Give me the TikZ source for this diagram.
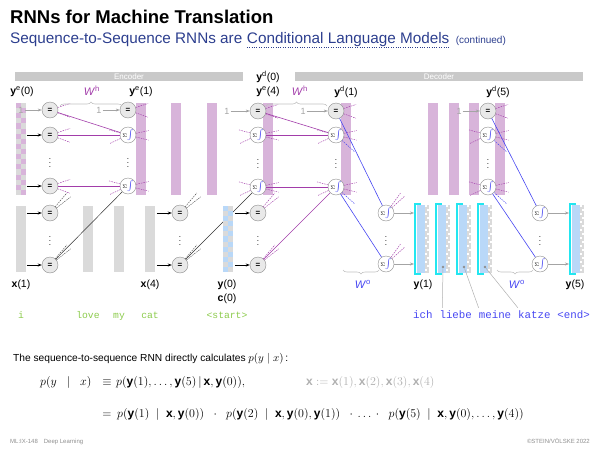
\documentclass[tikz,border=0pt]{standalone}
\usepackage{fontspec}
\setmainfont{Liberation Sans}
\setmonofont{Liberation Mono}
\usetikzlibrary{decorations.pathreplacing,arrows.meta,positioning}
\definecolor{lila}{HTML}{A23DAA}
\definecolor{lilabar}{HTML}{D8B4DA}
\definecolor{vio}{HTML}{4646F2}
\definecolor{grbar}{HTML}{DADADA}
\definecolor{head}{HTML}{C9C9C9}
\definecolor{skyb}{HTML}{B9D8F8}
\definecolor{cyanb}{HTML}{22E6F0}
\definecolor{wgreen}{HTML}{8CCB4C}
\definecolor{navy}{HTML}{2C3E8E}
\definecolor{mut}{HTML}{8E8E8E}
\newcommand{\sgsym}{{\fontsize{5}{5}\selectfont$\Sigma$}\textcolor{vio}{$\int$}}

\begin{document}
\begin{tikzpicture}[x=1pt,y=-1pt,
    eqn/.style={circle,draw=mut,fill=grbar!60,minimum size=16pt,inner sep=0pt,
      font=\bfseries\fontsize{8}{8}\selectfont},
    sgn/.style={circle,draw=mut,fill=white,minimum size=16pt,inner sep=0pt,
      font=\fontsize{8}{8}\selectfont},
    vd/.style={inner sep=0pt,font=\fontsize{8}{8}\selectfont},
    hdr/.style={fill=head,text=white,minimum height=9pt,inner sep=0pt,
      font=\fontsize{8}{8}\selectfont},
    hline/.style={lila,line width=0.6pt},
    oline/.style={vio,line width=0.6pt},
    xline/.style={black!80,line width=0.5pt},
    stub/.style={dash pattern=on 1.5pt off 1pt,line width=0.45pt},
    inarr/.style={-{Stealth[length=4pt,width=3pt]},line width=0.6pt},
    onearr/.style={-{Stealth[length=4pt,width=3pt]},mut!80,line width=0.5pt},
    onelab/.style={text=mut!80,font=\fontsize{9}{9}\selectfont,inner sep=1pt},
    lab/.style={font=\fontsize{10.5}{12}\selectfont,inner sep=0pt},
    wlab/.style={font=\fontsize{11}{12}\selectfont,inner sep=0pt},
    enword/.style={font=\ttfamily\fontsize{9.7}{11}\selectfont,text=wgreen,inner sep=0pt,
      anchor=base},
    deword/.style={font=\ttfamily\fontsize{10.8}{12}\selectfont,text=vio,inner sep=0pt,
      text height=1.6ex,text depth=0.3ex},
    frm/.style={inner sep=0pt,font=\fontsize{12}{14}\selectfont},
    ptr/.style={circle,fill=mut,minimum size=2.6pt,inner sep=0pt},
    brc/.style={decorate,decoration={brace,amplitude=4pt},mut!55,line width=0.6pt}]
  \useasboundingbox (0,0) rectangle (600,450);
  % title
  \node[anchor=base west,inner sep=0pt,font=\bfseries\fontsize{18.5}{20}\selectfont]
    (title) at (10,23.5) {RNNs for Machine Translation};
  \node[anchor=base west,inner sep=0pt,text=navy,font=\fontsize{15.3}{17}\selectfont]
    (sub1) at (10,43.5) {Sequence-to-Sequence RNNs are};
  \node[base right=4.2pt of sub1,inner sep=0pt,text=navy,font=\fontsize{15.3}{17}\selectfont]
    (sub2) {Conditional Language Models};
  \draw[navy,dotted] ([yshift=-3.5pt]sub2.base west) -- ([yshift=-3.5pt]sub2.base east);
  \node[base right=6pt of sub2,inner sep=0pt,text=navy,font=\fontsize{10}{12}\selectfont]
    (cont) {(continued)};
  % encoder / decoder headers
  \node[hdr,minimum width=228pt] (enc) at (129,76.5) {Encoder};
  \node[hdr,minimum width=288pt] (dec) at (439,76.5) {Decoder};
  % hidden state vectors
  \foreach \bx in {136,171,207,263,341,428,449,469,495}
    \fill[lilabar] (\bx,103) rectangle ++(10,92);
  \fill[grbar] (16,103) rectangle ++(10,92);
  \foreach \r in {0,...,17}
    \fill[lilabar] ({16+5*mod(\r,2)},{103+5.11*\r}) rectangle ++(5,5.11);
  % input vectors
  \foreach \bx in {16,83,114,145}
    \fill[grbar] (\bx,206) rectangle ++(10,66);
  % output vectors
  \foreach \cx in {415,436,457,478,570}{
    \fill[skyb] (\cx+1.5,205) rectangle (\cx+10,273);
    \fill[grbar] (\cx+10,205) rectangle (\cx+14,273);
    \foreach \r in {0,...,16}
      \fill[white] ({\cx+10+2*mod(\r,2)},{205+4*\r}) rectangle ++(2,2);
    \draw[cyanb,line width=1.3pt] (\cx+6,204) -- (\cx,204) -- (\cx,274) -- (\cx+6,274);}

  % encoder, step 1
  \node[eqn] (ea1) at (50,110) {=};
  \node[eqn] (eb1) at (50,135) {=};
  \node[eqn] (ec1) at (50,186) {=};
  \node[eqn] (xa1) at (50,213) {=};
  \node[eqn] (xb1) at (50,265) {=};
  \node[eqn] (ha1) at (128,110) {=};
  \node[sgn] (hb1) at (128,135) {\sgsym};
  \node[sgn] (hc1) at (128,186) {\sgsym};
  % encoder, step 4
  \node[eqn] (xa4) at (180,213) {=};
  \node[eqn] (xb4) at (180,265) {=};
  \node[eqn] (ha4) at (258,111) {=};
  \node[sgn] (hb4) at (258,135) {\sgsym};
  \node[sgn] (hc4) at (258,187) {\sgsym};
  \node[eqn] (ya0) at (258,213) {=};
  \node[eqn] (yb0) at (258,265) {=};
  % decoder, step 1
  \node[eqn] (da1) at (336,111) {=};
  \node[sgn] (db1) at (336,135) {\sgsym};
  \node[sgn] (dc1) at (336,187) {\sgsym};
  \node[sgn] (oa1) at (386,213) {\sgsym};
  \node[sgn] (ob1) at (386,264) {\sgsym};
  % decoder, step 5
  \node[eqn] (da5) at (488,111) {=};
  \node[sgn] (db5) at (488,135) {\sgsym};
  \node[sgn] (dc5) at (488,187) {\sgsym};
  \node[sgn] (oa5) at (540,213) {\sgsym};
  \node[sgn] (ob5) at (540,264) {\sgsym};
  \foreach \px/\py [count=\k] in {50/160,128/160,50/238,180/238,258/161,
      258/238,336/161,386/238,488/161,540/238}
    \node[vd] (dt\k) at (\px,\py) {$\vdots$};

  % weights
  \draw[hline] (ea1) -- (hb1);
  \draw[hline] (eb1) -- (hb1);
  \draw[hline] (ec1) -- (hc1);
  \draw[xline] (xb1) -- (hc1);
  \draw[xline] (xb4) -- (hc4);
  \draw[hline] (ha4) -- (db1);
  \draw[hline] (hb4) -- (db1);
  \draw[hline] (hc4) -- (dc1);
  \draw[hline] (yb0) -- (dc1);
  \draw[oline] (da1) -- (oa1);
  \draw[oline] (dc1) -- (ob1);
  \draw[oline] (da5) -- (oa5);
  \draw[oline] (dc5) -- (ob5);
  % dashed stubs: the other weights
  \foreach \n in {ea1,eb1,ec1,ha1,ha4,da1,da5}
    \foreach \a in {18,-20}
      \draw[stub,lila] (\n.\a) -- ++(\a:13pt);
  \foreach \n in {hb1,hc1,hb4,hc4,db1,dc1,db5,dc5}{
    \foreach \a in {165,205}
      \draw[stub,lila] (\n.\a) -- ++(\a:12pt);
    \foreach \a in {12,-14}
      \draw[stub,lila] (\n.\a) -- ++(\a:13pt);}
  \foreach \n in {db1,dc1,db5,dc5}
    \draw[stub,vio] (\n.-42) -- ++(-42:17pt);
  \foreach \n in {xa1,xb1,xa4,xb4}
    \foreach \a in {38,50}
      \draw[stub,black!70] (\n.\a) -- ++(\a:18pt);
  \foreach \n in {ya0,yb0}
    \foreach \a in {38,50}
      \draw[stub,lila] (\n.\a) -- ++(\a:18pt);
  \foreach \n in {oa1,ob1}
    \foreach \a in {42,54}
      \draw[stub,lila] (\n.\a) -- ++(\a:17pt);

  % y(0) vector, above the x(4) weight
  \fill[grbar] (223,206) rectangle ++(10,66);
  \foreach \r in {0,...,12}
    \fill[skyb] ({223+5*mod(\r,2)},{206+5.08*\r}) rectangle ++(5,5.08);

  % bias inputs
  \node[onelab] (one0) at (21,110) {1};
  \node[onelab] (one1) at (99,110) {1};
  \node[onelab] (one4) at (227,111) {1};
  \node[onelab] (one5) at (303,111) {1};
  \node[onelab] (one9) at (459,111) {1};
  \draw[onearr] (one0) -- (ea1);
  \draw[onearr] (one1) -- (ha1);
  \draw[onearr] (one4) -- (ha4);
  \draw[onearr] (one5) -- (da1);
  \draw[onearr] (one9) -- (da5);
  % vector inputs
  \foreach \n in {eb1,ec1,xa1,xb1,xa4,xb4,ya0,yb0}
    \draw[inarr] ([xshift=-15pt]\n.west) -- (\n.west);
  \coordinate (c1a) at (414,213);
  \coordinate (c1b) at (414,264);
  \coordinate (c5a) at (569,213);
  \coordinate (c5b) at (569,264);
  \draw[onearr] (oa1) -- (c1a);
  \draw[onearr] (ob1) -- (c1b);
  \draw[onearr] (oa5) -- (c5a);
  \draw[onearr] (ob5) -- (c5b);

  % braces
  \draw[brc] (60,106) -- (122,106);
  \draw[brc] (266,106) -- (327,106);
  \draw[brc] (379,270) -- (343,270);
  \draw[brc] (533,270) -- (497,270);
  \node[wlab,text=lila] (wh1) at (92,91) {\textit{W}\textsuperscript{h}};
  \node[wlab,text=lila] (wh2) at (300,91) {\textit{W}\textsuperscript{h}};
  \node[wlab,text=vio] (wo1) at (363,284) {\textit{W}\textsuperscript{o}};
  \node[wlab,text=vio] (wo2) at (517,284) {\textit{W}\textsuperscript{o}};

  % vector labels
  \node[lab] (lye0) at (22,92) {\textbf{y}\textsuperscript{e}(0)};
  \node[lab] (lye1) at (141,92) {\textbf{y}\textsuperscript{e}(1)};
  \node[lab] (lyd0) at (268,77) {\textbf{y}\textsuperscript{d}(0)};
  \node[lab] (lye4) at (268,92) {\textbf{y}\textsuperscript{e}(4)};
  \node[lab] (lyd1) at (346,92) {\textbf{y}\textsuperscript{d}(1)};
  \node[lab] (lyd5) at (498,92) {\textbf{y}\textsuperscript{d}(5)};
  \node[lab] (lx1) at (21,285) {\textbf{x}(1)};
  \node[lab] (lx4) at (150,285) {\textbf{x}(4)};
  \node[lab] (ly0) at (227,285) {\textbf{y}(0)};
  \node[lab] (lc0) at (227,299) {\textbf{c}(0)};
  \node[lab] (ly1) at (423,285) {\textbf{y}(1)};
  \node[lab] (ly5) at (575,285) {\textbf{y}(5)};

  % words
  \node[enword] (en1) at (21,318) {i};
  \node[enword] (en2) at (88,318) {love};
  \node[enword] (en3) at (119,318) {my};
  \node[enword] (en4) at (150,318) {cat};
  \node[enword] (en5) at (227,318) {<start>};
  \node[deword,anchor=west] (de1) at (413,315) {ich};
  \node[deword,right=6.48pt of de1] (de2) {liebe};
  \node[deword,right=6.48pt of de2] (de3) {meine};
  \node[deword,right=6.48pt of de3] (de4) {katze};
  \node[deword,right=6.48pt of de4] (de5) {<end>};
  \node[ptr] (p2) at (443,267) {};
  \node[ptr] (p3) at (464,267) {};
  \node[ptr] (p4) at (485,267) {};
  \draw[mut!70,line width=0.5pt] (p2) -- ([xshift=3pt,yshift=2pt]de2.north west);
  \draw[mut!70,line width=0.5pt] (p3) -- ([yshift=2pt]de3.north west);
  \draw[mut!70,line width=0.5pt] (p4) -- ([yshift=2pt]de4.north west);

  % factorisation
  \node[anchor=base west,inner sep=0pt,font=\fontsize{10.2}{12}\selectfont] (body) at (13,361)
    {The sequence-to-sequence RNN directly calculates {\fontsize{11}{12}\selectfont$p(y\mid x)$}\,:};
  \node[frm,anchor=base west] (f1) at (40,385) {$p(y\;\;\mid\;\;x)$};
  \node[frm,anchor=base] (eq1) at (107,385) {$\equiv$};
  \node[frm,anchor=base west] (f2) at (116,385)
    {$p(\mathbf{y}(1),\ldots,\mathbf{y}(5)\,|\,\mathbf{x},\mathbf{y}(0)),$};
  \node[frm,anchor=base west,text=mut!70] (f3) at (306,385)
    {$\mathbf{x}:=\mathbf{x}(1),\mathbf{x}(2),\mathbf{x}(3),\mathbf{x}(4)$};
  \node[frm,anchor=base] (eq2) at (107,417) {$=$};
  \node[frm,anchor=base west] (f4) at (117,417)
    {$p(\mathbf{y}(1)\;\mid\;\mathbf{x},\mathbf{y}(0))\;\;\cdot\;\;
      p(\mathbf{y}(2)\;\mid\;\mathbf{x},\mathbf{y}(0),\mathbf{y}(1))\;\;\cdot\,\ldots\,\cdot\;\;
      p(\mathbf{y}(5)\;\mid\;\mathbf{x},\mathbf{y}(0),\ldots,\mathbf{y}(4))$};

  % footer
  \node[anchor=base west,inner sep=0pt,text=mut,font=\fontsize{6}{7}\selectfont] (foot1) at (10,443)
    {ML:IX-148\hspace{6pt}Deep Learning};
  \node[anchor=base east,inner sep=0pt,text=mut,font=\fontsize{6}{7}\selectfont] (foot2) at (590,443)
    {\textcopyright STEIN/VÖLSKE 2022};
\end{tikzpicture}
\end{document}
